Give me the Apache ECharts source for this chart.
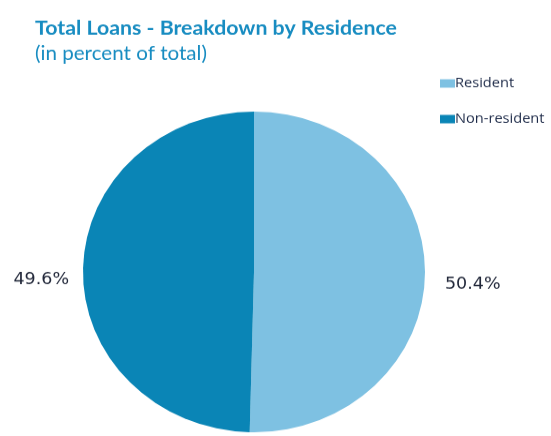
<!DOCTYPE html>
<html>
<head>
<meta charset="utf-8">
<script src="https://cdn.jsdelivr.net/npm/echarts@6/dist/echarts.min.js"></script>
<style>
  html, body { margin: 0; padding: 0; background: #ffffff; overflow: hidden; }
  #wrap { width: 551px; height: 436px; overflow: hidden; }
  /* the drawing is laid out taller and pressed to 436px, giving the slightly flattened pie */
  #chart { width: 551px; height: 465px; transform: scaleY(0.9376); transform-origin: 0 0; }
</style>
</head>
<body>
<div id="wrap"><div id="chart"></div></div>
<script>
// Loan breakdown by residence, percent of total
const categories = ['Resident', 'Non-resident'];
const shares = [50.4, 49.6];
const sliceColors = ['#7ec1e2', '#0a85b6'];

// outside-label leader lengths (the leader itself is hidden)
const leaderLength = [10, 9];
const leaderLength2 = [5, 0];

const chart = echarts.init(document.getElementById('chart'), null, { renderer: 'canvas' });

chart.setOption({
  backgroundColor: '#ffffff',
  animation: false,
  title: {
    text: 'Total Loans - Breakdown by Residence',
    subtext: '(in percent of total)',
    left: 30,
    top: 15,
    itemGap: 6,
    textStyle: {
      fontFamily: 'Lato',
      fontWeight: 'bold',
      fontSize: 21.3,
      color: '#178cc1'
    },
    subtextStyle: {
      fontFamily: 'Lato',
      fontSize: 20.6,
      color: '#178cc1'
    }
  },
  legend: {
    orient: 'vertical',
    left: 435,
    top: 76,
    itemGap: 22,
    itemWidth: 15,
    itemHeight: 9,
    icon: 'rect',
    data: categories,
    selectedMode: false,
    textStyle: {
      fontFamily: 'Open Sans',
      fontSize: 14.6,
      lineHeight: 16,
      color: '#1d2a48',
      padding: [0, 0, 0, -5]
    }
  },
  series: [{
    type: 'pie',
    center: [254, 290],
    radius: 171,
    startAngle: 90,
    clockwise: true,
    data: categories.map((name, i) => ({
      name: name,
      value: shares[i],
      itemStyle: { color: sliceColors[i] },
      labelLine: { length: leaderLength[i], length2: leaderLength2[i] }
    })),
    label: {
      show: true,
      position: 'outside',
      formatter: p => p.value.toFixed(1) + '%',
      fontFamily: 'DejaVu Sans',
      fontSize: 17.5,
      color: '#22283a'
    },
    labelLine: { show: false },
    labelLayout: { dy: 11 },
    emphasis: { disabled: true }
  }]
});
</script>
</body>
</html>
